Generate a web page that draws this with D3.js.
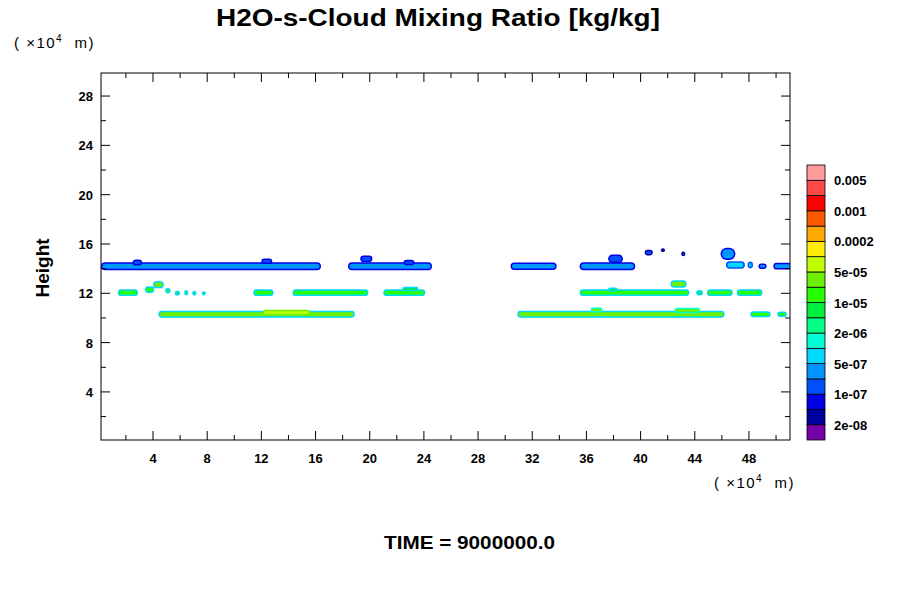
<!DOCTYPE html>
<html>
<head>
<script src="https://d3js.org/d3.v7.min.js"></script>
<style>body{margin:0;background:#fff;font-family:"Liberation Sans",Arial,sans-serif;}</style>
</head>
<body>
<svg width="900" height="600"></svg>
<script>
var palette = ["#7800a8","#00009c","#0000e6","#0050ff","#0096ff","#00d8ff","#00ffd2","#00ff82","#00f040","#28ff00","#6ef000","#c0ff00","#ffec00","#ffa800","#ff5a00","#ff0000","#ff4848","#ff9c9c"];
var levelLabels = ["2e-08","1e-07","5e-07","2e-06","1e-05","5e-05","0.0002","0.001","0.005"];
var xTicks = [4,8,12,16,20,24,28,32,36,40,44,48];
var yTicks = [4,8,12,16,20,24,28];
// cloud patches: [x0, x1, y, thickness, edge level, core level]
var upper = [[0.16,16.4,14.2,0.65,2,4],[18.4,24.6,14.2,0.65,2,4],[30.4,33.8,14.2,0.6,2,4],[35.5,39.6,14.2,0.65,2,4],
  [2.5,3.2,14.5,0.5,2,3],[12.0,12.8,14.6,0.45,2,3],[19.3,20.2,14.8,0.55,2,3],[22.5,23.3,14.5,0.45,2,3],[37.6,38.7,14.8,0.7,2,3],
  [40.3,40.9,15.3,0.45,1,3],[41.5,41.8,15.5,0.3,1,2],[43.0,43.3,15.2,0.4,1,3],[45.9,47.0,15.2,1.0,2,4],
  [46.3,47.7,14.3,0.6,3,5],[47.9,48.3,14.3,0.55,3,5],[48.7,49.3,14.2,0.45,2,4],[49.8,51.2,14.2,0.55,2,4]];
var middle = [[1.4,2.9,12.05,0.55,5,9],[3.4,4.1,12.3,0.55,5,9],[4.0,4.8,12.7,0.6,5,10],[4.9,5.3,12.2,0.45,5,9],[5.6,6.0,12.0,0.4,5,8],
  [6.3,6.6,12.05,0.45,5,9],[6.9,7.2,12.0,0.4,5,8],[7.6,7.9,12.0,0.35,5,8],
  [11.4,12.9,12.05,0.55,5,9],[14.3,19.9,12.05,0.55,5,9],[21.0,24.1,12.05,0.55,5,9],[22.4,23.6,12.35,0.35,5,8],
  [35.5,43.6,12.05,0.55,5,9],[37.6,38.3,12.3,0.35,5,8],[42.2,43.4,12.75,0.6,5,10],[44.1,44.6,12.05,0.45,5,8],
  [44.9,46.8,12.05,0.55,5,9],[47.1,49.0,12.05,0.55,5,9]];
var lower = [[4.4,18.9,10.3,0.55,5,10],[12.1,15.6,10.45,0.45,10,11],[30.9,46.2,10.3,0.55,5,10],[36.3,37.2,10.65,0.4,6,10],
  [42.5,44.4,10.6,0.45,6,10],[48.1,49.6,10.3,0.5,5,9],[50.1,50.8,10.3,0.45,5,9]];

var svg = d3.select("svg");
var L=101,R=790,T=73,B=440;
var x = d3.scaleLinear().domain([0.16,51.03]).range([L,R]);
var y = d3.scaleLinear().domain([0.1,29.87]).range([B,T]);

svg.append("clipPath").attr("id","cp").append("rect").attr("x",L).attr("y",T).attr("width",R-L).attr("height",B-T);
var g = svg.append("g").attr("clip-path","url(#cp)");
upper.concat(middle,lower).forEach(function(d){
  var h = y(0)-y(d[3]);
  g.append("rect").attr("x",x(d[0])).attr("width",x(d[1])-x(d[0])).attr("y",y(d[2])-h/2).attr("height",h)
    .attr("rx",h/2).attr("fill",palette[d[4]]);
  var h2=h-3, w=x(d[1])-x(d[0])-3;
  g.append("rect").attr("x",x(d[0])+1.5).attr("width",Math.max(w,1)).attr("y",y(d[2])-h2/2).attr("height",h2)
    .attr("rx",h2/2).attr("fill",palette[d[5]]);
});

var minorX = d3.range(2,51,2), minorY = d3.range(2,30,2);
var ax = svg.append("g").attr("stroke","#000");
minorX.forEach(function(v){var len = v%4?5:9;
  ax.append("line").attr("x1",x(v)).attr("x2",x(v)).attr("y1",B).attr("y2",B-len);
  ax.append("line").attr("x1",x(v)).attr("x2",x(v)).attr("y1",T).attr("y2",T+len);});
minorY.forEach(function(v){var len = v%4?5:9;
  ax.append("line").attr("y1",y(v)).attr("y2",y(v)).attr("x1",L).attr("x2",L+len);
  ax.append("line").attr("y1",y(v)).attr("y2",y(v)).attr("x1",R).attr("x2",R-len);});
svg.append("rect").attr("x",L).attr("y",T).attr("width",R-L).attr("height",B-T).attr("fill","none").attr("stroke","#000");

svg.selectAll(".xt").data(xTicks).enter().append("text").attr("x",d=>x(d)).attr("y",B+23)
  .attr("text-anchor","middle").attr("font-size",13).attr("font-weight","bold").text(d=>d);
svg.selectAll(".yt").data(yTicks).enter().append("text").attr("x",L-8).attr("y",d=>y(d)+5)
  .attr("text-anchor","end").attr("font-size",13).attr("font-weight","bold").text(d=>d);

svg.append("text").attr("x",216).attr("y",26).attr("font-size",24).attr("font-weight","bold")
  .attr("textLength",444).attr("lengthAdjust","spacingAndGlyphs").text("H2O-s-Cloud Mixing Ratio [kg/kg]");
function unit(xp,yp){var t=svg.append("text").attr("x",xp).attr("y",yp).attr("font-size",15).attr("letter-spacing",1.5);
  t.append("tspan").text("(\u00a0\u00d710");t.append("tspan").attr("dy",-6).attr("font-size",10).text("4");
  t.append("tspan").attr("dy",6).text("\u00a0\u00a0m)");}
unit(14,48); unit(714,488);
svg.append("text").attr("transform","translate(49,268) rotate(-90)").attr("text-anchor","middle").attr("font-size",19).attr("font-weight","bold").text("Height");
svg.append("text").attr("x",384).attr("y",549).attr("font-size",18).attr("font-weight","bold")
  .attr("textLength",171).attr("lengthAdjust","spacingAndGlyphs").text("TIME = 9000000.0");

// legend
var ly = d3.scaleLinear().domain([0,palette.length]).range([440,165]);
var lg = svg.append("g");
palette.forEach(function(c,i){
  lg.append("rect").attr("x",807).attr("y",ly(i+1)).attr("width",18).attr("height",ly(i)-ly(i+1)).attr("fill",c).attr("stroke","#000").attr("stroke-width",0.8);
});
levelLabels.forEach(function(t,i){
  lg.append("text").attr("x",834).attr("y",ly(1+2*i)+5).attr("font-size",13).attr("font-weight","bold").text(t);
});
</script>
</body>
</html>
